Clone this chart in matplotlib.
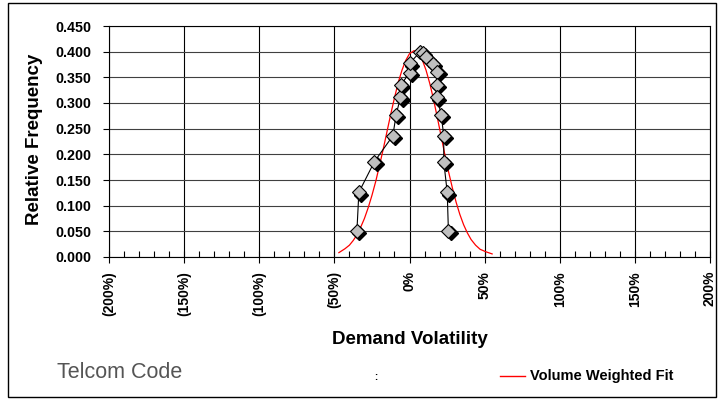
import matplotlib
matplotlib.use('Agg')
import matplotlib.pyplot as plt
import matplotlib.transforms as mtransforms
from matplotlib.patches import Rectangle

plt.rcParams['font.family'] = ['Liberation Sans', 'DejaVu Sans']

vol_obs = [-0.350, -0.337, -0.233, -0.111, -0.089, -0.060, -0.055, 0.000, 0.000,
           0.072, 0.090, 0.113, 0.155, 0.185, 0.184, 0.184, 0.211, 0.228, 0.228,
           0.251, 0.259]
freq_obs = [0.051, 0.126, 0.186, 0.236, 0.277, 0.311, 0.336, 0.359, 0.377,
            0.400, 0.397, 0.389, 0.376, 0.360, 0.335, 0.311, 0.277, 0.236, 0.186,
            0.126, 0.051]

# Volume weighted fit (red curve), sampled from the chart
vol_fit = [-0.47, -0.43, -0.40, -0.375, -0.35, -0.325, -0.30, -0.275, -0.25, -0.225,
           -0.20, -0.175, -0.15, -0.125, -0.10, -0.075, -0.05, -0.025, 0.00, 0.03,
           0.06, 0.085, 0.11, 0.135, 0.16, 0.185, 0.21, 0.235, 0.26, 0.285, 0.31,
           0.335, 0.36, 0.385, 0.41, 0.44, 0.47, 0.51, 0.55]
freq_fit = [0.0085, 0.016, 0.023, 0.032, 0.043, 0.058, 0.075, 0.096, 0.120, 0.147,
            0.178, 0.210, 0.244, 0.278, 0.310, 0.340, 0.364, 0.383, 0.396, 0.402,
            0.397, 0.384, 0.364, 0.338, 0.307, 0.272, 0.236, 0.200, 0.166, 0.135,
            0.107, 0.083, 0.063, 0.047, 0.034, 0.023, 0.015, 0.010, 0.006]

x_major = [-2.0, -1.5, -1.0, -0.5, 0.0, 0.5, 1.0, 1.5, 2.0]
y_major = [0.0, 0.05, 0.10, 0.15, 0.20, 0.25, 0.30, 0.35, 0.40, 0.45]


def pct_label(v):
    p = int(round(v * 100))
    if p < 0:
        return '(%d%%)' % (-p)
    return '%d%%' % p


fig = plt.figure(figsize=(7.2, 4.0), dpi=100)
fig.patches.append(Rectangle((8 / 720, 3 / 400), 708 / 720, 394 / 400,
                             transform=fig.transFigure, fill=False,
                             edgecolor='black', linewidth=1.0))

ax = fig.add_axes([109 / 720, 1 - 257 / 400, 601 / 720, 231 / 400])
ax.set_xlim(-2.0, 2.0)
ax.set_ylim(0.0, 0.45)

# grid
for gx in x_major:
    ax.axvline(gx, color='black', linewidth=0.8, zorder=1)
for gy in y_major:
    ax.axhline(gy, color='#404040', linewidth=0.8, zorder=1)

# fit curve
ax.plot(vol_fit, freq_fit, color='red', linewidth=0.9, zorder=2)

# observed series with shadowed diamonds
ax.plot(vol_obs, freq_obs, color='black', linewidth=0.8, zorder=3)
shadow = mtransforms.offset_copy(ax.transData, fig=fig, x=1.6, y=-1.6, units='points')
ax.plot(vol_obs, freq_obs, linestyle='none', marker='D', markersize=7.5,
        markerfacecolor='black', markeredgecolor='black', transform=shadow, zorder=4)
ax.plot(vol_obs, freq_obs, linestyle='none', marker='D', markersize=7.5,
        markerfacecolor='#C0C0C0', markeredgecolor='black', markeredgewidth=0.8,
        zorder=5)

ax.set_xticks(x_major)
ax.set_xticklabels([pct_label(v) for v in x_major], rotation=90,
                   fontsize=10, fontweight='bold')
ax.set_xticks([i / 10 for i in range(-20, 21) if i % 5 != 0], minor=True)
ax.tick_params(axis='x', which='major', direction='inout', length=8, width=0.8, pad=6)
ax.tick_params(axis='x', which='minor', direction='in', length=4, width=0.8)

ax.set_yticks(y_major)
ax.set_yticklabels(['%.3f' % v for v in y_major], fontsize=10.3, fontweight='bold')
ax.tick_params(axis='y', direction='out', length=4, width=0.8, pad=9)

for s in ax.spines.values():
    s.set_linewidth(0.8)

ax.set_xlabel('Demand Volatility', fontsize=13.5, fontweight='bold')
ax.set_ylabel('Relative Frequency', fontsize=13.5, fontweight='bold')
ax.xaxis.set_label_coords((410 - 109) / 601, (257 - 331) / 231)
ax.yaxis.set_label_coords((43 - 109) / 601, 0.5 + 2 / 231)

# footer
fig.text(57 / 720, 1 - 372 / 400, 'Telcom Code', fontsize=15.5, color='#555555',
         va='center', ha='left')
fig.text(374 / 720, 1 - 377 / 400, ':', fontsize=7, fontweight='bold',
         va='center', ha='left')
fig.lines.append(plt.Line2D([500 / 720, 525 / 720], [1 - 376 / 400, 1 - 376 / 400],
                            transform=fig.transFigure, color='red', linewidth=1.0))
fig.text(530 / 720, 1 - 376 / 400, 'Volume Weighted Fit', fontsize=10.5, fontweight='bold',
         va='center', ha='left')

fig.savefig('out.png', dpi=100)
